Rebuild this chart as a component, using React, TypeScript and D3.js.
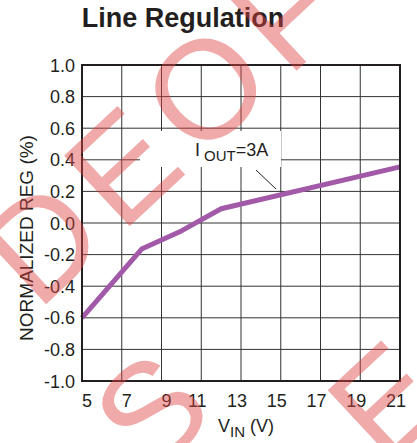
import React from "react";
import * as d3 from "d3";

// data
const vin = [5, 8, 10, 12, 21];
const normReg = [-0.6, -0.165, -0.05, 0.09, 0.355];
const xTicks = [5, 7, 9, 11, 13, 15, 17, 19, 21];
const yTicks = [-1.0, -0.8, -0.6, -0.4, -0.2, 0.0, 0.2, 0.4, 0.6, 0.8, 1.0];

const W = 417;
const H = 443;
const font = "'Liberation Sans', Arial, Helvetica, sans-serif";
const ink = "#231f20";

const App: React.FC = () => {
  const x = d3.scaleLinear().domain([5, 21]).range([82, 400]);
  const y = d3.scaleLinear().domain([-1, 1]).range([381, 65]);

  const line = d3
    .line<number>()
    .x((_, i) => x(vin[i]))
    .y((d) => y(d));

  return (
    <svg
      width={W}
      height={H}
      style={{ position: "absolute", left: 0, top: 0, background: "#fff" }}
      fontFamily={font}
    >
      <rect width={W} height={H} fill="#fff" />
      <text x={183} y={27} textAnchor="middle" fontSize={27} fontWeight="bold" fill={ink}>
        Line Regulation
      </text>

      {/* grid */}
      <g stroke="#333" strokeWidth={1}>
        {xTicks.slice(1, -1).map((t) => (
          <line key={"gx" + t} x1={x(t)} x2={x(t)} y1={y(1)} y2={y(-1)} />
        ))}
        {yTicks.slice(1, -1).map((t) => (
          <line key={"gy" + t} x1={x(5)} x2={x(21)} y1={y(t)} y2={y(t)} />
        ))}
      </g>

      {/* label box covers the grid */}
      <rect x={140} y={131} width={141} height={36} fill="#fff" />
      <text fontSize={18} fill={ink}>
        <tspan x={195} y={156}>I</tspan>
        <tspan x={204} dy={5} fontSize={15}>OUT</tspan>
        <tspan dy={-5}>=3A</tspan>
      </text>
      <line x1={256} y1={170} x2={276} y2={189} stroke={ink} strokeWidth={1} />

      <path
        d={line(normReg) ?? ""}
        fill="none"
        stroke="#a25aa8"
        strokeWidth={5}
        strokeLinejoin="round"
      />

      <rect
        x={x(5)}
        y={y(1)}
        width={x(21) - x(5)}
        height={y(-1) - y(1)}
        fill="none"
        stroke={ink}
        strokeWidth={2}
      />

      {/* y ticks */}
      <g fontSize={18} fill={ink} textAnchor="end">
        {yTicks.map((t) => (
          <text key={"ty" + t} x={75} y={y(t) + 6.5}>
            {t.toFixed(1)}
          </text>
        ))}
      </g>
      {/* x ticks */}
      <g fontSize={18} fill={ink} textAnchor="middle">
        {xTicks.map((t) => (
          <text key={"tx" + t} x={x(t) + (t < 10 ? 5 : -4)} y={407}>
            {t}
          </text>
        ))}
      </g>

      <text fontSize={18} fill={ink}>
        <tspan x={218} y={432}>V</tspan>
        <tspan dy={5} fontSize={15}>IN</tspan>
        <tspan dy={-5}> (V)</tspan>
      </text>
      <text
        transform="translate(33,238) rotate(-90)"
        textAnchor="middle"
        fontSize={19}
        fill={ink}
      >
        NORMALIZED REG (%)
      </text>

      {/* watermark */}
      <g fill="rgb(222,67,67)" fillOpacity={0.45} fontSize={140}>
        <text transform="translate(165,125) rotate(-43)" y={50} textAnchor="middle" letterSpacing={13}>
          DEOF
        </text>
        <text transform="translate(150,410) rotate(-43)" y={50} textAnchor="middle">
          S
        </text>
        <text transform="translate(385,400) rotate(-43)" y={50} textAnchor="middle">
          E
        </text>
      </g>
    </svg>
  );
};

export default App;
